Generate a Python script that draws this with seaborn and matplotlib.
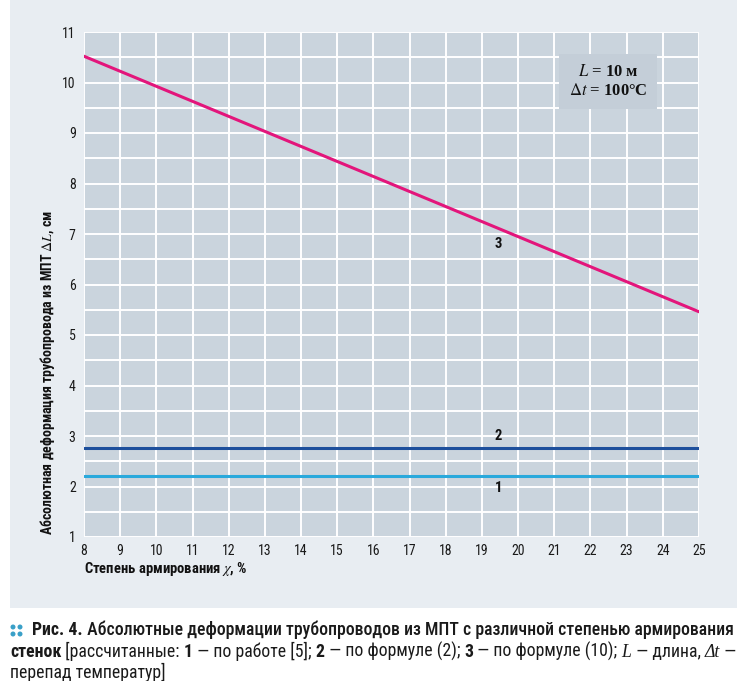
import matplotlib
matplotlib.use("Agg")
import matplotlib.pyplot as plt
from matplotlib import font_manager
from matplotlib.patches import Rectangle, Ellipse
import seaborn as sns
import pandas as pd
import numpy as np

# ---- data ----
x_line3 = [8, 25]
y_line3 = [10.52, 5.46]
x_line2 = [8, 25]
y_line2 = [2.76, 2.76]
x_line1 = [8, 25]
y_line1 = [2.21, 2.21]
x_ticks = list(range(8, 26))
y_ticks = list(range(1, 12))
labels = ["1", "2", "3"]
label_x = [19.45, 19.45, 19.45]
label_y = [1.97, 3.0, 6.80]

sns.set_style("white")
avail = {f.name for f in font_manager.fontManager.ttflist}
narrow = "DejaVu Sans"
for cand in ["Roboto Condensed", "Liberation Sans Narrow", "Open Sans Condensed",
             "Noto Sans Condensed", "DejaVu Sans Condensed", "Roboto"]:
    if cand in avail:
        narrow = cand
        break
plt.rcParams['font.family'] = [narrow, 'DejaVu Sans']
plt.rcParams['font.stretch'] = 'condensed'
plt.rcParams['mathtext.fontset'] = 'stix'

W, H = 746, 681
fig = plt.figure(figsize=(W / 100, H / 100), dpi=100)
fig.patch.set_facecolor("white")
bg = Rectangle((10 / W, 1 - 608 / H), 727 / W, 608 / H,
               transform=fig.transFigure, facecolor="#e8edf2",
               edgecolor="none", zorder=-10)
fig.patches.append(bg)

ax = fig.add_axes([84 / W, 1 - 537 / H, 615 / W, 505 / H])
ax.set_zorder(1)
ax.set_facecolor("#cad4dd")

df = pd.concat([
    pd.DataFrame({"x": x_line1, "y": y_line1, "s": "1"}),
    pd.DataFrame({"x": x_line2, "y": y_line2, "s": "2"}),
    pd.DataFrame({"x": x_line3, "y": y_line3, "s": "3"}),
])
pal = {"1": "#29a9dc", "2": "#1d4f9c", "3": "#e3157b"}
sns.lineplot(data=df, x="x", y="y", hue="s", palette=pal, linewidth=2.2,
             legend=False, ax=ax, zorder=3)

ax.set_xlim(8, 25)
ax.set_ylim(1, 11)
ax.set_xticks(x_ticks)
ax.set_yticks(y_ticks)
ax.set_yticks(np.arange(1.5, 11, 1.0), minor=True)
ax.grid(True, which="major", color="white", linewidth=1.4)
ax.grid(True, which="minor", axis="y", color="white", linewidth=1.4)
ax.set_axisbelow(True)
for s in ax.spines.values():
    s.set_visible(False)
ax.tick_params(axis="both", which="both", length=0, labelsize=10,
               colors="#1a1a1a")
ax.tick_params(axis="y", pad=6)
ax.tick_params(axis="x", pad=5)

ax.set_xlabel("")
ax.set_ylabel("")
fig.text(84 / W, 1 - 569 / H, "Степень армирования $\\chi$, %", fontsize=10.5,
         fontweight="bold", ha="left", va="center", color="#111")
fig.text(48 / W, 1 - 373 / H, "Абсолютная деформация трубопровода из МПТ $\\Delta L$, см",
         fontsize=10, fontweight="bold", rotation=90, ha="center", va="center",
         color="#111")

for lab, lx, ly in zip(labels, label_x, label_y):
    ax.text(lx, ly, lab, fontsize=10.5, fontweight="bold", ha="center",
            va="center", color="#111", zorder=4)

ax.text(0.852, 0.902, "$L$ = 10 м\n$\\Delta t$ = 100°C", transform=ax.transAxes,
        fontsize=12, fontweight="bold", family="Liberation Serif", ha="center",
        va="center", color="#111", linespacing=1.25, zorder=4,
        bbox=dict(boxstyle="square,pad=0.6", facecolor="#c4ced8", edgecolor="none"))

# ---- caption ----
renderer = fig.canvas.get_renderer()
dark = "#1a1a1a"
reg = "medium"
line1 = [("Рис. 4.", "bold", "normal", None, dark),
         (" Абсолютные деформации трубопроводов из МПТ с различной степенью армирования",
          reg, "normal", None, dark)]
line2 = [("стенок", "bold", "normal", None, dark),
         (" [рассчитанные: ", "normal", "normal", None, dark),
         ("1", "bold", "normal", None, dark),
         (" — по работе [5]; ", "normal", "normal", None, dark),
         ("2", "bold", "normal", None, dark),
         (" — по формуле (2); ", "normal", "normal", None, dark),
         ("3", "bold", "normal", None, dark),
         (" — по формуле (10); ", "normal", "normal", None, dark),
         ("L", "normal", "italic", "Liberation Serif", dark),
         (" — длина, ", "normal", "normal", None, dark),
         ("Δt", "normal", "italic", "Liberation Serif", dark),
         (" —", "normal", "normal", None, dark)]
line3 = [("перепад температур]", "normal", "normal", None, dark)]


def draw_line(pieces, x0, ybase, fs, measure=False):
    x = x0
    made = []
    for txt, weight, style, fam, col in pieces:
        kw = dict(fontsize=fs, fontweight=weight, fontstyle=style, color=col,
                  ha="left", va="baseline")
        if fam:
            kw["family"] = fam
        t = fig.text(x / W, 1 - ybase / H, txt, **kw)
        bb = t.get_window_extent(renderer)
        x += bb.width
        made.append(t)
    if measure:
        for t in made:
            t.remove()
    return x - x0


fs = 13.5
w1 = draw_line(line1, 32, 635, fs, measure=True)
w2 = draw_line(line2, 10, 657, fs, measure=True)
scale = min(704 / w1, 731 / w2, 1.0)
fs = fs * scale

# icon: four dots
for cx, cy in [(13, 627), (20, 627), (13, 634), (20, 634)]:
    fig.patches.append(Ellipse((cx / W, 1 - cy / H), 5 / W, 5 / H,
                               transform=fig.transFigure, facecolor="#3aa0c8",
                               edgecolor="none"))
draw_line(line1, 32, 635, fs)
draw_line(line2, 10, 657, fs)
draw_line(line3, 10, 678, fs)

fig.savefig("out.png", dpi=100)
